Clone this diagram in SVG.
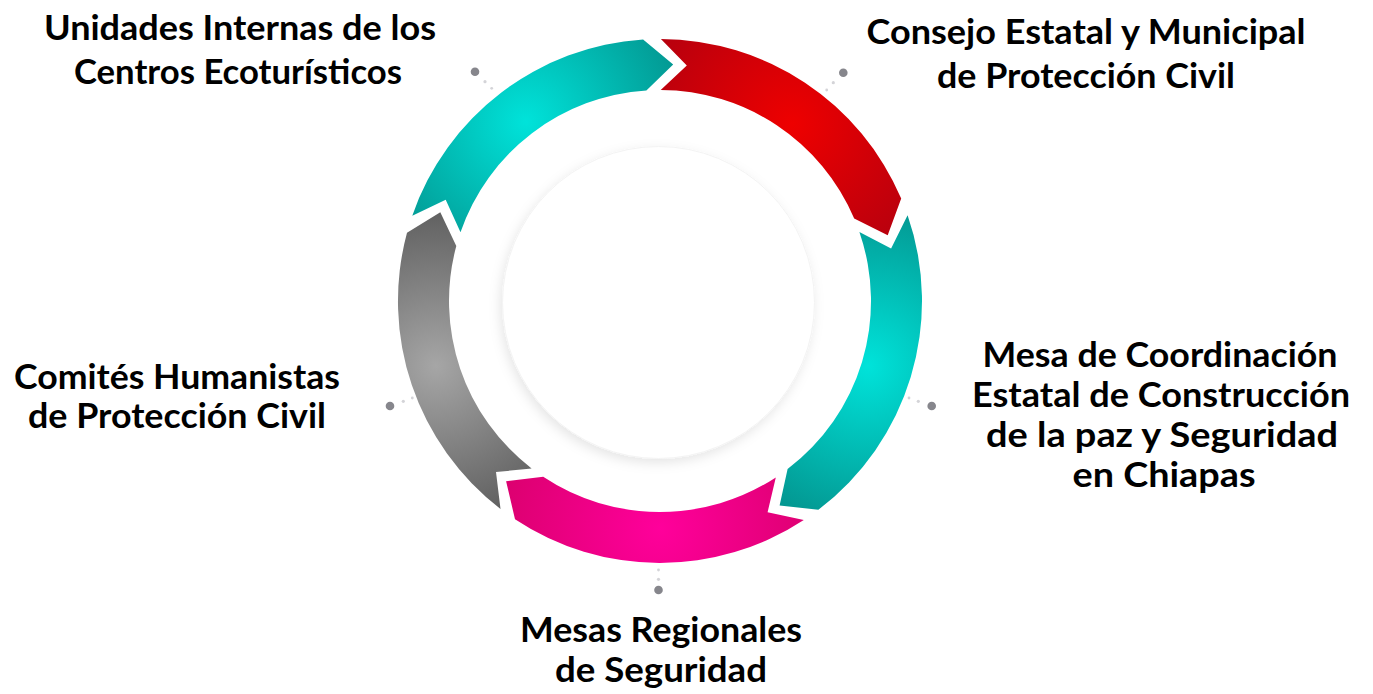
<svg xmlns="http://www.w3.org/2000/svg" width="1373" height="694" viewBox="0 0 1373 694">
<style>
.lbl{font-family:Lato,"Liberation Sans",sans-serif;font-weight:700;font-size:35px;fill:#000;text-anchor:middle}
.big{fill:#86868c}
.sm{fill:#d4d4d8}
</style>
<defs>
<radialGradient id="gTeal1" gradientUnits="userSpaceOnUse" cx="526" cy="122" r="165">
<stop offset="0" stop-color="#00e3da"/><stop offset="1" stop-color="#039690"/>
</radialGradient>
<radialGradient id="gRed" gradientUnits="userSpaceOnUse" cx="792" cy="124" r="165">
<stop offset="0" stop-color="#ee0000"/><stop offset="1" stop-color="#b3000f"/>
</radialGradient>
<radialGradient id="gTeal2" gradientUnits="userSpaceOnUse" cx="868" cy="366" r="165">
<stop offset="0" stop-color="#00e3da"/><stop offset="1" stop-color="#039690"/>
</radialGradient>
<radialGradient id="gPink" gradientUnits="userSpaceOnUse" cx="660" cy="528" r="165">
<stop offset="0" stop-color="#ff009b"/><stop offset="1" stop-color="#db006e"/>
</radialGradient>
<radialGradient id="gGray" gradientUnits="userSpaceOnUse" cx="436" cy="366" r="165">
<stop offset="0" stop-color="#a6a6a6"/><stop offset="1" stop-color="#5c5c5c"/>
</radialGradient>
<filter id="sh" x="-20%" y="-20%" width="140%" height="140%">
<feDropShadow dx="-2" dy="4" stdDeviation="6" flood-color="#000" flood-opacity="0.10"/>
</filter>
</defs>
<rect width="1373" height="694" fill="#fff"/>
<g id="center">
<circle cx="658.5" cy="302.5" r="156" fill="#fff" stroke="#f3f3f3" stroke-width="1" filter="url(#sh)"/>
</g>
<g id="node-unidades">
<path d="M412.3,215.7 A262,262 0 0 1 643.1,39.5 L673.2,64.4 L646.4,90.4 A211,211 0 0 0 460.5,232.3 L445.7,199.7 Z" fill="url(#gTeal1)"/>
<text class="lbl" x="240" y="39.5" textLength="392" lengthAdjust="spacingAndGlyphs">Unidades Internas de los</text>
<text class="lbl" x="238" y="84" textLength="328" lengthAdjust="spacingAndGlyphs">Centros Ecoturísticos</text>
</g>
<g id="node-consejo">
<path d="M660.9,39.0 A262,262 0 0 1 901.2,198.6 L887.7,235.3 L854.2,218.6 A211,211 0 0 0 660.7,90.0 L686.8,65.5 Z" fill="url(#gRed)"/>
<text class="lbl" x="1086" y="44.3" textLength="439" lengthAdjust="spacingAndGlyphs">Consejo Estatal y Municipal</text>
<text class="lbl" x="1086" y="88.3" textLength="298" lengthAdjust="spacingAndGlyphs">de Protección Civil</text>
</g>
<g id="node-mesa-coordinacion">
<path d="M907.6,215.3 A262,262 0 0 1 818.4,509.7 L779.6,505.6 L787.6,469.1 A211,211 0 0 0 859.4,232.0 L891.1,248.5 Z" fill="url(#gTeal2)"/>
<text class="lbl" x="1160" y="366.7" textLength="355" lengthAdjust="spacingAndGlyphs">Mesa de Coordinación</text>
<text class="lbl" x="1161" y="406.7" textLength="378" lengthAdjust="spacingAndGlyphs">Estatal de Construcción</text>
<text class="lbl" x="1162" y="446.7" textLength="352" lengthAdjust="spacingAndGlyphs">de la paz y Seguridad</text>
<text class="lbl" x="1164" y="486.7" textLength="183" lengthAdjust="spacingAndGlyphs">en Chiapas</text>
</g>
<g id="node-mesas-regionales">
<path d="M803.8,520.0 A262,262 0 0 1 515.0,519.2 L506.1,481.2 L543.2,476.7 A211,211 0 0 0 775.8,477.4 L767.6,512.2 Z" fill="url(#gPink)"/>
<text class="lbl" x="661" y="642.3" textLength="282" lengthAdjust="spacingAndGlyphs">Mesas Regionales</text>
<text class="lbl" x="661" y="682.3" textLength="212" lengthAdjust="spacingAndGlyphs">de Seguridad</text>
</g>
<g id="node-comites">
<path d="M500.5,508.9 A262,262 0 0 1 407.0,232.8 L440.3,212.2 L456.3,246.0 A211,211 0 0 0 531.6,468.4 L496.0,472.1 Z" fill="url(#gGray)"/>
<text class="lbl" x="177" y="389.3" textLength="326" lengthAdjust="spacingAndGlyphs">Comités Humanistas</text>
<text class="lbl" x="177" y="428.3" textLength="298" lengthAdjust="spacingAndGlyphs">de Protección Civil</text>
</g>
<g id="connectors">
<circle class="big" cx="475" cy="71.7" r="4.3"/><circle class="sm" cx="485" cy="81.7" r="1.6"/><circle class="sm" cx="491.7" cy="88.3" r="1.4"/>
<circle class="big" cx="843.3" cy="72.7" r="4.3"/><circle class="sm" cx="833.3" cy="82.7" r="1.6"/><circle class="sm" cx="826.7" cy="90" r="1.4"/>
<circle class="big" cx="931.7" cy="406" r="4.3"/><circle class="sm" cx="918.3" cy="401.3" r="1.6"/><circle class="sm" cx="909" cy="398" r="1.4"/>
<circle class="big" cx="658.5" cy="590" r="4.3"/><circle class="sm" cx="658.5" cy="579.3" r="1.6"/><circle class="sm" cx="658.5" cy="570" r="1.4"/>
<circle class="big" cx="390" cy="406" r="4.3"/><circle class="sm" cx="403.3" cy="401.3" r="1.6"/><circle class="sm" cx="412.3" cy="398" r="1.4"/>
</g>
</svg>
